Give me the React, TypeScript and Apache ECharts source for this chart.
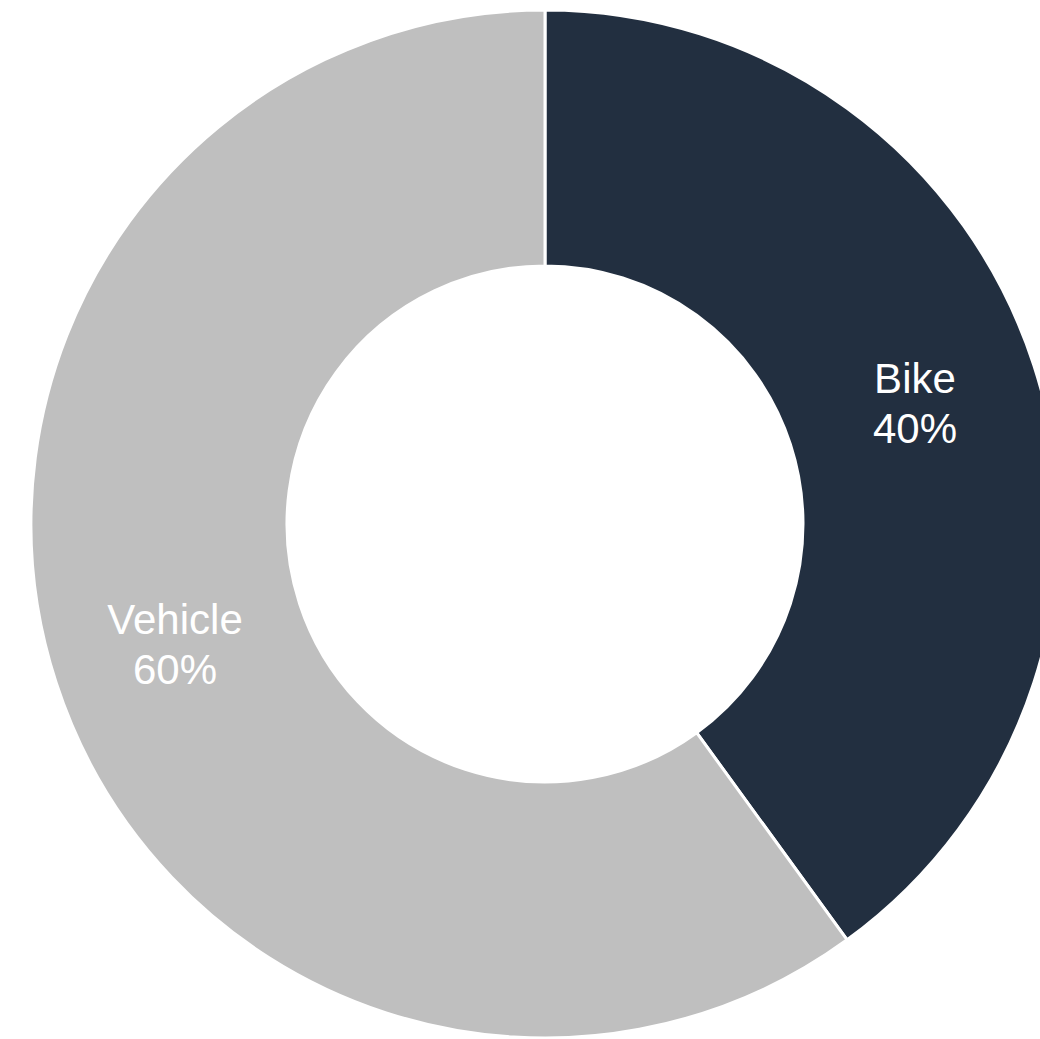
import React, { useEffect, useRef } from "react";
import * as echarts from "echarts";

const categories = ["Bike", "Vehicle"];
const values = [40, 60];
const colors = ["#222F40", "#BFBFBF"];

export default function App() {
  const ref = useRef<HTMLDivElement>(null);
  useEffect(() => {
    if (!ref.current) return;
    const chart = echarts.init(ref.current, undefined, { renderer: "svg" });
    chart.setOption({
      animation: false,
      backgroundColor: "#ffffff",
      series: [
        {
          type: "pie",
          center: [545, 524],
          radius: [258, 514],
          startAngle: 90,
          clockwise: true,
          avoidLabelOverlap: false,
          data: categories.map((name, i) => ({
            name,
            value: values[i],
            itemStyle: { color: colors[i] },
          })),
          itemStyle: { borderColor: "#ffffff", borderWidth: 3 },
          label: {
            show: true,
            position: "inside",
            formatter: (p: any) => `${p.name}\n${Math.round(p.percent)}%`,
            color: "#ffffff",
            fontFamily: "Liberation Sans, Arial, sans-serif",
            fontSize: 42,
            lineHeight: 50,
            align: "center",
          },
          labelLine: { show: false },
          emphasis: { disabled: true },
        },
      ],
    });
    return () => chart.dispose();
  }, []);
  return (
    <div
      ref={ref}
      style={{ position: "absolute", left: 0, top: 0, width: 1040, height: 1039 }}
    />
  );
}
